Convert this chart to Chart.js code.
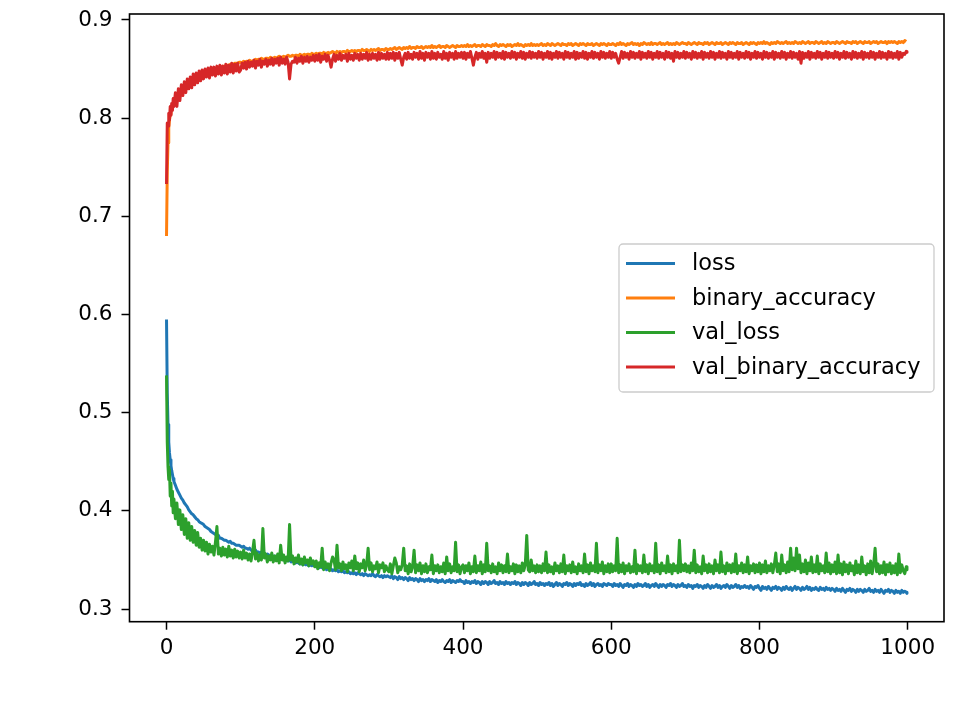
<!DOCTYPE html>
<html><head><meta charset="utf-8">
<script src="https://cdn.jsdelivr.net/npm/chart.js@4.4.1/dist/chart.umd.min.js"></script>
<style>html,body{margin:0;padding:0;background:#fff;}canvas{display:block;}</style>
</head><body>
<canvas id="c" width="957" height="705"></canvas>
<script>
const epochs = [0,1,2,3,4,5,6,7,8,9,10,
12,14,16,18,20,22,24,26,28,30,32,34,36,38,40,42,44,46,48,50,52,54,56,58,60,62,64,66,68,70,72,74,76,78,80,82,84,86,88,90,92,94,96,98,
100,102,104,106,108,110,112,114,116,118,120,122,124,126,128,130,132,134,136,138,140,142,144,146,148,150,152,154,156,158,160,162,164,166,168,170,172,174,176,178,180,182,184,186,188,190,192,194,196,198,
200,202,204,206,208,210,212,214,216,218,220,222,224,226,228,230,232,234,236,238,240,242,244,246,248,250,252,254,256,258,260,262,264,266,268,270,272,274,276,278,280,282,284,286,288,290,292,294,296,298,
300,302,304,306,308,310,312,314,316,318,320,322,324,326,328,330,332,334,336,338,340,342,344,346,348,350,352,354,356,358,360,362,364,366,368,370,372,374,376,378,380,382,384,386,388,390,392,394,396,398,
400,402,404,406,408,410,412,414,416,418,420,422,424,426,428,430,432,434,436,438,440,442,444,446,448,450,452,454,456,458,460,462,464,466,468,470,472,474,476,478,480,482,484,486,488,490,492,494,496,498,
500,502,504,506,508,510,512,514,516,518,520,522,524,526,528,530,532,534,536,538,540,542,544,546,548,550,552,554,556,558,560,562,564,566,568,570,572,574,576,578,580,582,584,586,588,590,592,594,596,598,
600,602,604,606,608,610,612,614,616,618,620,622,624,626,628,630,632,634,636,638,640,642,644,646,648,650,652,654,656,658,660,662,664,666,668,670,672,674,676,678,680,682,684,686,688,690,692,694,696,698,
700,702,704,706,708,710,712,714,716,718,720,722,724,726,728,730,732,734,736,738,740,742,744,746,748,750,752,754,756,758,760,762,764,766,768,770,772,774,776,778,780,782,784,786,788,790,792,794,796,798,
800,802,804,806,808,810,812,814,816,818,820,822,824,826,828,830,832,834,836,838,840,842,844,846,848,850,852,854,856,858,860,862,864,866,868,870,872,874,876,878,880,882,884,886,888,890,892,894,896,898,
900,902,904,906,908,910,912,914,916,918,920,922,924,926,928,930,932,934,936,938,940,942,944,946,948,950,952,954,956,958,960,962,964,966,968,970,972,974,976,978,980,982,984,986,988,990,992,994,996,998,
999];

const loss = [0.595,0.520,0.488,0.470,0.459,0.452,0.446,0.441,0.437,0.433,0.430,
0.426,0.422,0.419,0.416,0.413,0.411,0.408,0.406,0.404,0.401,0.399,0.397,0.396,0.394,0.392,0.391,0.389,0.388,0.387,0.386,0.384,0.383,0.382,0.381,0.379,0.378,0.377,0.376,0.374,0.375,0.372,0.372,0.371,0.370,0.370,0.369,0.368,0.369,0.367,0.367,0.366,0.365,0.365,0.365,
0.364,0.363,0.364,0.362,0.362,0.361,0.362,0.360,0.360,0.359,0.360,0.358,0.358,0.357,0.358,0.356,0.357,0.355,0.356,0.355,0.354,0.355,0.353,0.354,0.352,0.353,0.352,0.351,0.352,0.350,0.351,0.350,0.349,0.350,0.348,0.349,0.348,0.347,0.348,0.347,0.346,0.347,0.345,0.346,0.345,0.346,0.344,0.345,0.344,0.345,
0.344,0.343,0.344,0.342,0.343,0.342,0.341,0.342,0.340,0.341,0.340,0.341,0.339,0.340,0.339,0.340,0.338,0.339,0.338,0.339,0.337,0.338,0.337,0.338,0.336,0.337,0.336,0.337,0.335,0.337,0.336,0.335,0.336,0.334,0.336,0.335,0.334,0.335,0.334,0.336,0.334,0.333,0.335,0.334,0.333,0.334,0.332,0.334,0.333,0.334,
0.333,0.332,0.334,0.331,0.333,0.332,0.330,0.333,0.331,0.332,0.330,0.332,0.331,0.329,0.332,0.330,0.331,0.329,0.331,0.330,0.328,0.331,0.329,0.330,0.328,0.330,0.329,0.331,0.328,0.330,0.329,0.328,0.330,0.327,0.329,0.328,0.330,0.328,0.327,0.329,0.328,0.330,0.327,0.329,0.328,0.327,0.329,0.328,0.330,0.328,
0.328,0.326,0.329,0.327,0.328,0.326,0.328,0.327,0.329,0.326,0.328,0.327,0.325,0.328,0.326,0.328,0.327,0.325,0.328,0.326,0.327,0.329,0.326,0.327,0.325,0.328,0.326,0.327,0.325,0.328,0.326,0.327,0.325,0.327,0.326,0.328,0.325,0.327,0.326,0.324,0.327,0.325,0.327,0.326,0.324,0.327,0.325,0.326,0.328,0.325,
0.326,0.324,0.327,0.325,0.326,0.324,0.326,0.325,0.327,0.324,0.326,0.323,0.325,0.327,0.324,0.326,0.325,0.323,0.326,0.325,0.327,0.324,0.326,0.325,0.323,0.326,0.324,0.326,0.325,0.327,0.324,0.325,0.323,0.326,0.324,0.325,0.327,0.324,0.326,0.323,0.325,0.326,0.324,0.325,0.323,0.326,0.325,0.324,0.326,0.325,
0.325,0.323,0.326,0.324,0.325,0.323,0.326,0.324,0.322,0.325,0.324,0.326,0.323,0.325,0.324,0.322,0.325,0.323,0.326,0.324,0.325,0.323,0.324,0.326,0.323,0.325,0.322,0.324,0.325,0.323,0.326,0.324,0.322,0.325,0.323,0.325,0.324,0.322,0.325,0.324,0.326,0.323,0.325,0.324,0.322,0.325,0.323,0.324,0.326,0.323,
0.324,0.322,0.325,0.323,0.324,0.321,0.324,0.323,0.325,0.322,0.324,0.323,0.321,0.324,0.322,0.325,0.323,0.321,0.324,0.322,0.323,0.325,0.322,0.324,0.321,0.323,0.324,0.322,0.325,0.323,0.321,0.324,0.322,0.323,0.325,0.322,0.324,0.321,0.323,0.322,0.324,0.322,0.323,0.321,0.324,0.322,0.320,0.323,0.322,0.324,
0.321,0.319,0.323,0.321,0.322,0.320,0.323,0.321,0.319,0.322,0.321,0.323,0.320,0.322,0.321,0.319,0.322,0.320,0.323,0.321,0.320,0.322,0.319,0.321,0.323,0.320,0.322,0.321,0.319,0.322,0.320,0.321,0.323,0.320,0.322,0.319,0.321,0.320,0.322,0.320,0.319,0.322,0.320,0.321,0.319,0.322,0.320,0.321,0.319,0.321,
0.320,0.318,0.321,0.319,0.320,0.318,0.321,0.319,0.317,0.320,0.319,0.321,0.318,0.320,0.319,0.317,0.320,0.318,0.320,0.319,0.317,0.320,0.318,0.319,0.321,0.318,0.319,0.317,0.320,0.318,0.319,0.317,0.320,0.318,0.316,0.319,0.318,0.320,0.317,0.319,0.318,0.316,0.319,0.317,0.318,0.316,0.319,0.317,0.318,0.317,
0.316];

const binaryAccuracy = [0.680,0.745,0.775,0.790,0.798,0.804,0.808,0.811,0.814,0.816,0.818,
0.821,0.823,0.825,0.827,0.829,0.830,0.832,0.833,0.835,0.836,0.837,0.838,0.840,0.840,0.842,0.842,0.843,0.844,0.845,0.845,0.846,0.847,0.847,0.848,0.849,0.849,0.850,0.850,0.851,0.851,0.852,0.852,0.853,0.853,0.853,0.854,0.854,0.855,0.855,0.855,0.856,0.856,0.856,0.857,
0.857,0.856,0.858,0.857,0.858,0.857,0.859,0.858,0.858,0.859,0.860,0.859,0.860,0.859,0.861,0.860,0.860,0.861,0.861,0.860,0.862,0.861,0.861,0.862,0.861,0.862,0.863,0.862,0.862,0.863,0.862,0.863,0.864,0.863,0.863,0.864,0.863,0.864,0.864,0.863,0.865,0.864,0.864,0.865,0.864,0.865,0.865,0.864,0.866,0.865,
0.865,0.866,0.865,0.866,0.866,0.865,0.867,0.866,0.866,0.867,0.866,0.867,0.868,0.867,0.866,0.868,0.867,0.868,0.867,0.868,0.868,0.867,0.869,0.868,0.868,0.869,0.868,0.869,0.868,0.869,0.869,0.868,0.870,0.869,0.869,0.870,0.869,0.868,0.870,0.869,0.870,0.869,0.870,0.871,0.869,0.870,0.870,0.869,0.871,0.870,
0.870,0.871,0.870,0.871,0.872,0.870,0.871,0.872,0.871,0.870,0.872,0.871,0.872,0.871,0.873,0.871,0.872,0.872,0.871,0.873,0.872,0.872,0.873,0.871,0.872,0.873,0.872,0.873,0.872,0.874,0.872,0.873,0.872,0.873,0.874,0.872,0.873,0.873,0.872,0.874,0.873,0.872,0.873,0.874,0.873,0.872,0.874,0.873,0.873,0.874,
0.873,0.874,0.873,0.875,0.873,0.874,0.873,0.874,0.875,0.873,0.874,0.874,0.873,0.875,0.874,0.873,0.875,0.874,0.874,0.873,0.875,0.874,0.876,0.874,0.873,0.875,0.874,0.875,0.874,0.873,0.875,0.874,0.875,0.873,0.874,0.875,0.874,0.876,0.874,0.875,0.874,0.873,0.875,0.874,0.875,0.874,0.876,0.874,0.875,0.874,
0.875,0.874,0.875,0.876,0.874,0.875,0.874,0.876,0.875,0.874,0.876,0.875,0.874,0.875,0.876,0.875,0.874,0.876,0.875,0.875,0.874,0.876,0.875,0.876,0.874,0.875,0.876,0.875,0.874,0.876,0.875,0.876,0.875,0.874,0.876,0.875,0.875,0.876,0.874,0.875,0.876,0.875,0.874,0.876,0.875,0.876,0.875,0.874,0.876,0.875,
0.875,0.876,0.875,0.874,0.876,0.875,0.877,0.875,0.876,0.875,0.874,0.876,0.875,0.876,0.877,0.875,0.876,0.875,0.876,0.874,0.876,0.875,0.877,0.876,0.875,0.876,0.875,0.877,0.875,0.876,0.876,0.875,0.876,0.877,0.875,0.876,0.875,0.876,0.877,0.875,0.876,0.875,0.876,0.875,0.877,0.876,0.875,0.876,0.877,0.876,
0.876,0.875,0.877,0.876,0.875,0.876,0.877,0.876,0.875,0.877,0.876,0.876,0.875,0.877,0.876,0.877,0.875,0.876,0.877,0.876,0.875,0.877,0.876,0.876,0.877,0.875,0.876,0.877,0.876,0.875,0.877,0.876,0.877,0.876,0.875,0.877,0.876,0.876,0.877,0.875,0.876,0.877,0.876,0.875,0.877,0.876,0.877,0.876,0.875,0.877,
0.876,0.877,0.876,0.878,0.876,0.877,0.876,0.875,0.877,0.876,0.877,0.876,0.878,0.877,0.876,0.877,0.876,0.877,0.878,0.876,0.877,0.876,0.877,0.876,0.878,0.877,0.876,0.877,0.876,0.878,0.877,0.876,0.877,0.878,0.876,0.877,0.877,0.876,0.878,0.877,0.876,0.877,0.878,0.876,0.877,0.876,0.878,0.877,0.876,0.877,
0.877,0.876,0.878,0.877,0.876,0.877,0.878,0.877,0.876,0.878,0.877,0.877,0.876,0.878,0.877,0.878,0.876,0.877,0.878,0.877,0.876,0.878,0.877,0.877,0.878,0.876,0.877,0.878,0.877,0.878,0.876,0.877,0.878,0.877,0.877,0.878,0.876,0.878,0.877,0.878,0.877,0.878,0.877,0.876,0.878,0.877,0.878,0.877,0.879,0.878,
0.878];

const valLoss = [0.538,0.470,0.445,0.432,0.442,0.415,0.428,0.405,0.420,0.398,0.412,
0.392,0.408,0.386,0.401,0.381,0.396,0.376,0.392,0.372,0.388,0.370,0.384,0.368,0.380,0.365,0.378,0.363,0.372,0.360,0.370,0.359,0.368,0.356,0.366,0.358,0.364,0.355,0.368,0.384,0.356,0.362,0.354,0.363,0.355,0.361,0.353,0.364,0.354,0.360,0.352,0.361,0.353,0.359,0.352,
0.358,0.351,0.360,0.352,0.357,0.350,0.356,0.349,0.358,0.370,0.351,0.357,0.349,0.355,0.350,0.382,0.352,0.356,0.348,0.354,0.350,0.357,0.348,0.354,0.349,0.356,0.347,0.365,0.350,0.355,0.347,0.353,0.349,0.386,0.350,0.354,0.346,0.352,0.348,0.355,0.346,0.351,0.345,0.353,0.347,0.350,0.344,0.352,0.346,0.349,
0.343,0.349,0.341,0.347,0.343,0.362,0.340,0.348,0.342,0.346,0.339,0.347,0.353,0.350,0.340,0.365,0.342,0.346,0.339,0.348,0.341,0.345,0.338,0.347,0.342,0.349,0.339,0.354,0.341,0.347,0.338,0.346,0.342,0.350,0.339,0.345,0.362,0.340,0.347,0.338,0.344,0.341,0.348,0.337,0.345,0.342,0.347,0.338,0.344,0.340,
0.338,0.346,0.336,0.344,0.352,0.347,0.337,0.343,0.340,0.345,0.362,0.339,0.344,0.336,0.346,0.338,0.343,0.360,0.337,0.345,0.339,0.347,0.336,0.344,0.338,0.346,0.337,0.343,0.340,0.355,0.336,0.344,0.339,0.345,0.337,0.343,0.338,0.347,0.336,0.353,0.339,0.346,0.337,0.343,0.339,0.368,0.338,0.345,0.336,0.343,
0.345,0.337,0.344,0.339,0.347,0.336,0.343,0.338,0.354,0.337,0.344,0.339,0.348,0.336,0.345,0.338,0.367,0.339,0.344,0.337,0.346,0.338,0.343,0.336,0.347,0.339,0.345,0.337,0.344,0.338,0.356,0.337,0.343,0.339,0.346,0.336,0.345,0.338,0.344,0.337,0.347,0.339,0.345,0.375,0.340,0.338,0.350,0.339,0.344,0.337,
0.345,0.338,0.344,0.337,0.346,0.339,0.358,0.337,0.345,0.338,0.343,0.336,0.347,0.339,0.344,0.337,0.346,0.338,0.355,0.336,0.344,0.339,0.345,0.337,0.348,0.338,0.343,0.336,0.346,0.339,0.344,0.337,0.356,0.338,0.345,0.336,0.347,0.339,0.344,0.338,0.367,0.337,0.345,0.339,0.348,0.336,0.344,0.338,0.346,0.337,
0.346,0.338,0.344,0.339,0.372,0.337,0.345,0.338,0.347,0.336,0.344,0.339,0.346,0.337,0.343,0.338,0.360,0.336,0.345,0.339,0.344,0.337,0.355,0.338,0.345,0.336,0.346,0.339,0.344,0.337,0.367,0.338,0.345,0.336,0.347,0.339,0.344,0.337,0.354,0.338,0.345,0.336,0.346,0.339,0.344,0.337,0.370,0.338,0.345,0.339,
0.346,0.338,0.344,0.337,0.347,0.339,0.360,0.337,0.345,0.338,0.343,0.336,0.354,0.339,0.345,0.337,0.346,0.338,0.344,0.336,0.350,0.339,0.345,0.337,0.358,0.338,0.344,0.336,0.347,0.339,0.345,0.337,0.346,0.338,0.356,0.336,0.344,0.339,0.347,0.337,0.345,0.338,0.353,0.336,0.344,0.339,0.346,0.337,0.345,0.338,
0.347,0.336,0.345,0.338,0.349,0.337,0.344,0.339,0.346,0.337,0.345,0.357,0.338,0.346,0.336,0.355,0.339,0.345,0.337,0.348,0.338,0.362,0.340,0.352,0.339,0.362,0.341,0.355,0.337,0.346,0.338,0.350,0.336,0.347,0.339,0.353,0.337,0.345,0.338,0.354,0.336,0.346,0.339,0.344,0.337,0.357,0.338,0.347,0.336,0.345,
0.338,0.348,0.336,0.355,0.337,0.346,0.335,0.348,0.338,0.345,0.336,0.347,0.339,0.344,0.335,0.349,0.337,0.345,0.336,0.353,0.338,0.344,0.335,0.346,0.337,0.349,0.336,0.345,0.362,0.338,0.346,0.336,0.344,0.337,0.348,0.335,0.345,0.338,0.347,0.336,0.344,0.337,0.346,0.335,0.356,0.337,0.345,0.339,0.336,0.343,
0.340];

const valBinaryAccuracy = [0.733,0.795,0.792,0.805,0.798,0.812,0.803,0.815,0.808,0.820,0.812,
0.826,0.812,0.830,0.818,0.834,0.823,0.837,0.826,0.840,0.830,0.842,0.831,0.845,0.834,0.846,0.836,0.848,0.838,0.849,0.840,0.850,0.842,0.851,0.841,0.852,0.844,0.852,0.843,0.853,0.845,0.854,0.844,0.853,0.846,0.855,0.845,0.854,0.847,0.856,0.846,0.855,0.848,0.856,0.847,
0.849,0.856,0.851,0.857,0.850,0.858,0.852,0.857,0.853,0.859,0.851,0.858,0.854,0.860,0.852,0.858,0.855,0.860,0.853,0.859,0.855,0.861,0.854,0.860,0.856,0.861,0.854,0.862,0.856,0.860,0.855,0.862,0.857,0.840,0.855,0.858,0.857,0.862,0.856,0.861,0.858,0.863,0.856,0.862,0.858,0.863,0.857,0.862,0.859,0.864,
0.858,0.864,0.859,0.865,0.857,0.863,0.860,0.865,0.858,0.864,0.859,0.852,0.860,0.865,0.858,0.864,0.860,0.866,0.859,0.864,0.861,0.865,0.858,0.866,0.860,0.864,0.859,0.866,0.861,0.865,0.859,0.866,0.860,0.865,0.861,0.867,0.859,0.865,0.860,0.866,0.861,0.865,0.859,0.867,0.860,0.866,0.861,0.865,0.860,0.867,
0.860,0.866,0.861,0.867,0.859,0.866,0.861,0.867,0.860,0.854,0.862,0.866,0.860,0.867,0.861,0.865,0.860,0.867,0.862,0.866,0.860,0.868,0.861,0.866,0.859,0.867,0.862,0.866,0.860,0.868,0.861,0.866,0.860,0.867,0.862,0.865,0.860,0.868,0.861,0.866,0.859,0.867,0.862,0.866,0.860,0.868,0.861,0.866,0.862,0.867,
0.861,0.867,0.860,0.866,0.862,0.868,0.861,0.854,0.862,0.867,0.860,0.866,0.862,0.868,0.861,0.866,0.857,0.867,0.861,0.866,0.862,0.868,0.860,0.867,0.862,0.866,0.861,0.868,0.860,0.867,0.862,0.866,0.861,0.868,0.862,0.867,0.860,0.866,0.862,0.868,0.861,0.867,0.860,0.866,0.862,0.868,0.861,0.867,0.862,0.866,
0.861,0.868,0.862,0.867,0.860,0.866,0.862,0.868,0.861,0.867,0.860,0.866,0.862,0.868,0.861,0.867,0.862,0.866,0.860,0.868,0.862,0.867,0.861,0.866,0.862,0.868,0.860,0.867,0.861,0.866,0.862,0.868,0.861,0.867,0.860,0.866,0.862,0.868,0.861,0.867,0.862,0.866,0.860,0.868,0.862,0.867,0.861,0.866,0.862,0.868,
0.861,0.867,0.862,0.866,0.860,0.856,0.862,0.868,0.861,0.867,0.862,0.866,0.860,0.868,0.862,0.867,0.861,0.866,0.862,0.868,0.860,0.867,0.862,0.866,0.861,0.868,0.862,0.867,0.860,0.866,0.862,0.868,0.861,0.867,0.862,0.866,0.860,0.868,0.862,0.867,0.861,0.866,0.858,0.868,0.862,0.867,0.861,0.866,0.862,0.868,
0.861,0.867,0.862,0.866,0.860,0.868,0.862,0.867,0.861,0.866,0.862,0.868,0.860,0.867,0.862,0.866,0.861,0.868,0.862,0.867,0.860,0.866,0.862,0.868,0.861,0.867,0.862,0.866,0.860,0.868,0.862,0.867,0.861,0.866,0.862,0.868,0.860,0.867,0.862,0.866,0.861,0.868,0.862,0.867,0.860,0.866,0.862,0.868,0.861,0.867,
0.862,0.866,0.860,0.868,0.862,0.867,0.861,0.866,0.862,0.868,0.860,0.867,0.862,0.866,0.861,0.868,0.862,0.867,0.860,0.866,0.862,0.868,0.861,0.867,0.862,0.866,0.860,0.868,0.856,0.867,0.861,0.866,0.862,0.868,0.860,0.867,0.862,0.866,0.861,0.868,0.862,0.867,0.860,0.866,0.862,0.868,0.861,0.867,0.862,0.866,
0.861,0.868,0.862,0.867,0.860,0.866,0.862,0.868,0.861,0.867,0.862,0.866,0.860,0.868,0.862,0.867,0.861,0.866,0.862,0.868,0.860,0.867,0.862,0.866,0.861,0.868,0.862,0.867,0.860,0.866,0.862,0.868,0.861,0.867,0.862,0.866,0.860,0.868,0.862,0.867,0.861,0.866,0.862,0.868,0.860,0.867,0.862,0.866,0.865,0.868,
0.867];

const seriesNames = ['loss','binary_accuracy','val_loss','val_binary_accuracy'];
const seriesColors = ['#1f77b4','#ff7f0e','#2ca02c','#d62728'];
const xTicks = [0,200,400,600,800,1000];
const yTicks = [0.3,0.4,0.5,0.6,0.7,0.8,0.9];

const FONT = 'DejaVu Sans';
const LINE_W = 3;
const allSeries = [loss, binaryAccuracy, valLoss, valBinaryAccuracy];
const datasets = allSeries.map((vals, k) => ({
  label: seriesNames[k],
  data: epochs.map((e, i) => ({x: e, y: vals[i]})),
  borderColor: seriesColors[k],
  backgroundColor: seriesColors[k],
  borderWidth: LINE_W,
  pointRadius: 0,
  tension: 0,
  fill: false,
  spanGaps: true,
  order: 4 - k,
  borderJoinStyle: 'round'
}));

const framePlugin = {
  id: 'frame',
  afterDatasetsDraw(chart) {
    const {ctx, chartArea: a} = chart;
    ctx.save();
    ctx.strokeStyle = '#000';
    ctx.lineWidth = 1.6;
    ctx.strokeRect(a.left, a.top, a.right - a.left, a.bottom - a.top);
    ctx.restore();
  }
};

const legendPlugin = {
  id: 'mplLegend',
  afterDraw(chart) {
    const {ctx, chartArea: a} = chart;
    const bx = a.right - 325, by = a.top + 230, bw = 315, bh = 148;
    ctx.save();
    ctx.beginPath();
    ctx.roundRect(bx, by, bw, bh, 4);
    ctx.fillStyle = 'rgba(255,255,255,0.8)';
    ctx.fill();
    ctx.strokeStyle = '#cccccc';
    ctx.lineWidth = 1.3;
    ctx.stroke();
    ctx.font = '22.5px "' + FONT + '"';
    ctx.textBaseline = 'middle';
    ctx.textAlign = 'left';
    chart.data.datasets.forEach((ds, i) => {
      const y = by + 19.5 + i * 34.5;
      ctx.beginPath();
      ctx.strokeStyle = ds.borderColor;
      ctx.lineWidth = LINE_W;
      ctx.moveTo(bx + 7, y);
      ctx.lineTo(bx + 56, y);
      ctx.stroke();
      ctx.fillStyle = '#000';
      ctx.fillText(ds.label, bx + 73, y + 1);
    });
    ctx.restore();
  }
};

new Chart(document.getElementById('c'), {
  type: 'line',
  data: {datasets},
  options: {
    responsive: false,
    animation: false,
    events: [],
    layout: {padding: {top: 14, right: 13, left: 0, bottom: 0}},
    plugins: {legend: {display: false}, tooltip: {enabled: false}},
    scales: {
      x: {
        type: 'linear', min: -49.95, max: 1048.95,
        afterBuildTicks: s => { s.ticks = xTicks.map(v => ({value: v})); },
        afterFit: s => { s.height = 83.3; s.paddingLeft = 0; s.paddingRight = 0; },
        grid: {display: true, drawOnChartArea: false, drawTicks: true, tickLength: 8, tickWidth: 1.5, tickColor: '#000'},
        border: {display: false},
        ticks: {color: '#000', font: {family: FONT, size: 21.5}, padding: 6, maxRotation: 0, autoSkip: false, callback: v => String(v)}
      },
      y: {
        type: 'linear', min: 0.2871, max: 0.9061,
        afterBuildTicks: s => { s.ticks = yTicks.map(v => ({value: v})); },
        afterFit: s => { s.width = 129.5; s.paddingTop = 0; s.paddingBottom = 0; },
        grid: {display: true, drawOnChartArea: false, drawTicks: true, tickLength: 8, tickWidth: 1.5, tickColor: '#000'},
        border: {display: false},
        ticks: {color: '#000', font: {family: FONT, size: 21.5}, padding: 9, autoSkip: false, callback: v => v.toFixed(1)}
      }
    }
  },
  plugins: [framePlugin, legendPlugin]
});
</script>
</body></html>
